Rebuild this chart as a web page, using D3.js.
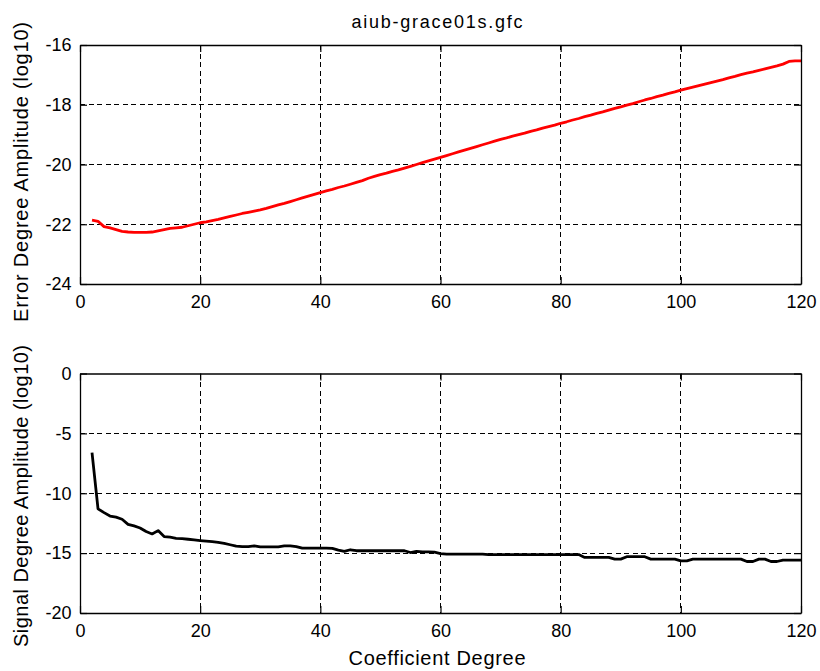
<!DOCTYPE html>
<html>
<head>
<meta charset="utf-8">
<script src="https://cdn.jsdelivr.net/npm/d3@7"></script>
<style>
  html, body { margin: 0; padding: 0; background: #fff; }
  svg { display: block; }
  text { font-family: "Liberation Sans", Arial, Helvetica, sans-serif; fill: #000; }
</style>
</head>
<body>
<svg id="chart" width="820" height="671"></svg>
<script>
// Spherical harmonic degrees 2..120
const degrees = d3.range(2, 121);

// log10 of the error degree amplitudes
const errorAmplitude = [
  -21.86, -21.90, -22.08, -22.12, -22.18, -22.24, -22.26, -22.27, -22.27, -22.27,
  -22.26, -22.22, -22.18, -22.14, -22.12, -22.10, -22.05, -22.00, -21.95, -21.92,
  -21.88, -21.84, -21.79, -21.74, -21.69, -21.64, -21.60, -21.56, -21.52, -21.47,
  -21.41, -21.35, -21.30, -21.24, -21.18, -21.12, -21.06, -21.00, -20.94, -20.88,
  -20.83, -20.77, -20.72, -20.66, -20.60, -20.54, -20.46, -20.40, -20.34, -20.29,
  -20.23, -20.18, -20.12, -20.06, -20.00, -19.94, -19.88, -19.82, -19.76, -19.70,
  -19.64, -19.58, -19.52, -19.46, -19.40, -19.34, -19.28, -19.22, -19.16, -19.11,
  -19.05, -19.00, -18.95, -18.89, -18.84, -18.78, -18.73, -18.68, -18.62, -18.57,
  -18.51, -18.46, -18.40, -18.35, -18.29, -18.24, -18.18, -18.12, -18.07, -18.01,
  -17.96, -17.90, -17.84, -17.79, -17.73, -17.68, -17.62, -17.57, -17.51, -17.46,
  -17.41, -17.36, -17.31, -17.26, -17.21, -17.16, -17.10, -17.05, -16.99, -16.94,
  -16.90, -16.85, -16.80, -16.75, -16.70, -16.64, -16.55, -16.53, -16.53
];

// log10 of the signal degree amplitudes
const signalAmplitude = [
  -6.60, -11.30, -11.62, -11.90, -12.00, -12.17, -12.60, -12.73, -12.90, -13.20,
  -13.40, -13.12, -13.62, -13.67, -13.76, -13.79, -13.84, -13.90, -13.95, -14.00,
  -14.04, -14.10, -14.18, -14.30, -14.42, -14.46, -14.46, -14.39, -14.47, -14.47,
  -14.47, -14.47, -14.39, -14.39, -14.45, -14.58, -14.58, -14.58, -14.58, -14.58,
  -14.60, -14.75, -14.86, -14.72, -14.80, -14.80, -14.80, -14.80, -14.80, -14.80,
  -14.80, -14.80, -14.80, -14.95, -14.85, -14.89, -14.89, -14.92, -15.05, -15.08,
  -15.08, -15.08, -15.08, -15.08, -15.08, -15.08, -15.12, -15.12, -15.12, -15.12,
  -15.12, -15.12, -15.12, -15.12, -15.12, -15.12, -15.12, -15.12, -15.12, -15.12,
  -15.12, -15.12, -15.36, -15.36, -15.36, -15.36, -15.36, -15.50, -15.50, -15.30,
  -15.30, -15.30, -15.30, -15.50, -15.50, -15.50, -15.50, -15.50, -15.64, -15.64,
  -15.50, -15.50, -15.50, -15.50, -15.50, -15.50, -15.50, -15.50, -15.50, -15.70,
  -15.70, -15.50, -15.50, -15.70, -15.70, -15.58, -15.58, -15.58, -15.58
];

// Tick values
const xTicks = [0, 20, 40, 60, 80, 100, 120];
const errorTicks = [-24, -22, -20, -18, -16];
const signalTicks = [-20, -15, -10, -5, 0];

const titleText = "aiub-grace01s.gfc";
const xLabel = "Coefficient Degree";
const errorLabel = "Error Degree Amplitude (log10)";
const signalLabel = "Signal Degree Amplitude (log10)";

const svg = d3.select("#chart");
const left = 80, right = 801;

const x = d3.scaleLinear().domain([0, 120]).range([left, right]);

// plain hyphen-minus tick labels
const plainNumber = d => String(d);

function panel(top, bottom, yDomain, yTicks, values, color) {
  const y = d3.scaleLinear().domain(yDomain).range([bottom, top]);
  const g = svg.append("g");

  // dashed grid at interior ticks
  const grid = g.append("g")
    .attr("stroke", "#000").attr("stroke-width", 1.1)
    .attr("stroke-dasharray", "5,3.5").attr("shape-rendering", "crispEdges");
  xTicks.slice(1, -1).forEach(t => {
    grid.append("line").attr("x1", x(t)).attr("x2", x(t)).attr("y1", top).attr("y2", bottom);
  });
  yTicks.slice(1, -1).forEach(t => {
    grid.append("line").attr("x1", left).attr("x2", right).attr("y1", y(t)).attr("y2", y(t));
  });

  // data line
  const line = d3.line().x((d, i) => x(degrees[i])).y(d => y(d));
  g.append("path").datum(values)
    .attr("fill", "none").attr("stroke", color)
    .attr("stroke-width", 2.8).attr("stroke-linejoin", "round")
    .attr("d", line);

  const styleAxis = sel => {
    sel.select(".domain").attr("stroke", "#000").attr("stroke-width", 1.3);
    sel.selectAll(".tick line").attr("stroke", "#000").attr("stroke-width", 1.2);
    sel.selectAll("text").attr("font-size", 18)
      .attr("font-family", "'Liberation Sans', Arial, Helvetica, sans-serif").attr("fill", "#000");
  };

  g.append("g").attr("transform", `translate(0,${bottom})`)
    .call(d3.axisBottom(x).tickValues(xTicks).tickFormat(plainNumber)
      .tickSizeInner(-7).tickSizeOuter(0).tickPadding(11))
    .call(styleAxis);
  g.append("g").attr("transform", `translate(0,${top})`)
    .call(d3.axisTop(x).tickValues(xTicks).tickFormat("")
      .tickSizeInner(-7).tickSizeOuter(0))
    .call(styleAxis);
  g.append("g").attr("transform", `translate(${left},0)`)
    .call(d3.axisLeft(y).tickValues(yTicks).tickFormat(plainNumber)
      .tickSizeInner(-7).tickSizeOuter(0).tickPadding(8.5))
    .call(styleAxis);
  g.append("g").attr("transform", `translate(${right},0)`)
    .call(d3.axisRight(y).tickValues(yTicks).tickFormat("")
      .tickSizeInner(-7).tickSizeOuter(0))
    .call(styleAxis);

  return g;
}

panel(45, 284, [-24, -16], errorTicks, errorAmplitude, "#ff0000");
panel(373.5, 613, [-20, 0], signalTicks, signalAmplitude, "#000000");

// title and axis labels
svg.append("text").attr("x", 437).attr("y", 28).attr("text-anchor", "middle")
  .attr("font-size", 18).attr("textLength", 171).attr("lengthAdjust", "spacing")
  .text(titleText);

svg.append("text").attr("x", 437).attr("y", 665).attr("text-anchor", "middle")
  .attr("font-size", 20).attr("textLength", 177).attr("lengthAdjust", "spacing")
  .text(xLabel);

svg.append("text").attr("transform", "translate(28,172) rotate(-90)")
  .attr("text-anchor", "middle")
  .attr("font-size", 20).attr("textLength", 300).attr("lengthAdjust", "spacing")
  .text(errorLabel);

svg.append("text").attr("transform", "translate(28,496) rotate(-90)")
  .attr("text-anchor", "middle")
  .attr("font-size", 20).attr("textLength", 302).attr("lengthAdjust", "spacing")
  .text(signalLabel);
</script>
</body>
</html>
